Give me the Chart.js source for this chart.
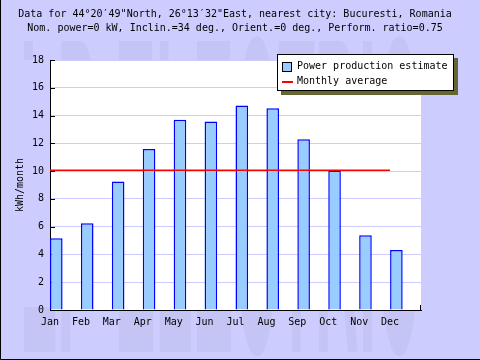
<!DOCTYPE html>
<html><head><meta charset="utf-8">
<script src="https://cdn.jsdelivr.net/npm/chart.js@4"></script>
<style>html,body{margin:0;padding:0;background:#ccccff}canvas{display:block}</style>
</head><body>
<div style="width:480px;height:360px"><canvas id="c" width="480" height="360"></canvas></div>
<script>
const months = ['Jan','Feb','Mar','Apr','May','Jun','Jul','Aug','Sep','Oct','Nov','Dec'];
const production = [5.16, 6.24, 9.26, 11.6, 13.7, 13.58, 14.73, 14.52, 12.29, 10.05, 5.38, 4.32];
const monthlyAverage = [10.06, 10.06, 10.06, 10.06, 10.06, 10.06, 10.06, 10.06, 10.06, 10.06, 10.06, 10.06];
const yTickValues = [0, 2, 4, 6, 8, 10, 12, 14, 16, 18];
const titleLines = [
  'Data for 44\u00b020\u203249"North, 26\u00b013\u203232"East, nearest city: Bucuresti, Romania',
  'Nom. power=0 kW, Inclin.=34 deg., Orient.=0 deg., Perform. ratio=0.75'
];
const seriesLabels = ['Power production estimate', 'Monthly average'];
const yAxisTitle = 'kWh/month';
const watermarkText = 'LP ELECTRIC';

const MONO = "'DejaVu Sans Mono', 'Liberation Mono', monospace";
Chart.defaults.font.family = MONO;
Chart.defaults.font.size = 10;
Chart.defaults.color = '#000';

const BG = '#ccccff';
const BAR_FILL = '#99ccff';
const BAR_EDGE = '#0000ff';
const AVG_COLOR = '#ff0000';

const xLabels = months.concat(['']);

const backgroundPlugin = {
  id: 'bgPlugin',
  beforeDraw(chart) {
    const ctx = chart.ctx;
    const a = chart.chartArea;
    ctx.save();
    ctx.fillStyle = BG;
    ctx.fillRect(0, 0, chart.width, chart.height);
    ctx.beginPath();
    ctx.rect(0, 0, chart.width, a.top);
    ctx.rect(0, a.bottom - 3, chart.width, chart.height - a.bottom + 3);
    ctx.clip();
    ctx.fillStyle = '#c5c5f5';
    ctx.font = "bold 60px 'Liberation Sans', Arial, sans-serif";
    ctx.textBaseline = 'alphabetic';
    const w = ctx.measureText(watermarkText).width;
    ctx.translate(20, 352);
    ctx.scale(400 / w, 324 / 43);
    ctx.fillText(watermarkText, 0, 0);
    ctx.restore();
    ctx.save();
    ctx.fillStyle = '#ffffff';
    ctx.fillRect(a.left, a.top, a.right - a.left, a.bottom - a.top);
    ctx.strokeStyle = '#000';
    ctx.lineWidth = 1;
    ctx.beginPath();
    ctx.moveTo(0.5, 0);
    ctx.lineTo(0.5, chart.height - 0.5);
    ctx.lineTo(chart.width, chart.height - 0.5);
    ctx.stroke();
    ctx.restore();
  },
  beforeDatasetsDraw(chart) {
    const ctx = chart.ctx;
    const ys = chart.scales.y;
    const xs = chart.scales.x;
    const a = chart.chartArea;
    ctx.save();
    ctx.strokeStyle = '#000';
    ctx.lineWidth = 1;
    ctx.beginPath();
    ys.ticks.forEach(t => {
      const py = Math.round(ys.getPixelForValue(t.value)) + 0.5;
      ctx.moveTo(a.left, py);
      ctx.lineTo(a.left + 5, py);
    });
    const px = Math.round(xs.getPixelForValue(xLabels.length - 1)) - 0.5;
    ctx.moveTo(px, a.bottom);
    ctx.lineTo(px, a.bottom - 5);
    ctx.stroke();
    ctx.restore();
  },
  afterDraw(chart) {
    const ctx = chart.ctx;
    ctx.save();
    ctx.fillStyle = '#666633';
    ctx.fillRect(281, 58, 177, 37);
    ctx.fillStyle = '#ffffff';
    ctx.fillRect(277, 54, 177, 37);
    ctx.strokeStyle = '#000';
    ctx.lineWidth = 1;
    ctx.strokeRect(277.5, 54.5, 176, 36);
    ctx.fillStyle = BAR_FILL;
    ctx.fillRect(282, 62, 10, 10);
    ctx.strokeStyle = '#000';
    ctx.strokeRect(282.5, 62.5, 9, 9);
    ctx.strokeStyle = AVG_COLOR;
    ctx.lineWidth = 2;
    ctx.beginPath();
    ctx.moveTo(282, 82);
    ctx.lineTo(293, 82);
    ctx.stroke();
    ctx.fillStyle = '#000';
    ctx.font = '10px ' + MONO;
    ctx.textBaseline = 'middle';
    ctx.textAlign = 'left';
    ctx.fillText(chart.data.datasets[1].label, 297, 66.5);
    ctx.fillText(chart.data.datasets[2].label, 297, 81.5);
    ctx.restore();
  }
};

new Chart(document.getElementById('c'), {
  data: {
    labels: xLabels,
    datasets: [
      { type: 'bar', label: '', data: xLabels.map(() => null), order: 2,
        categoryPercentage: 0.815, barPercentage: 1.0 },
      { type: 'bar', label: seriesLabels[0], data: production.concat([null]), order: 2,
        backgroundColor: BAR_FILL, borderColor: BAR_EDGE, borderWidth: 1.5,
        categoryPercentage: 0.815, barPercentage: 1.0 },
      { type: 'line', label: seriesLabels[1], data: monthlyAverage.concat([null]), order: 0,
        borderColor: AVG_COLOR, borderWidth: 1.5, pointRadius: 0, fill: false, tension: 0 }
    ]
  },
  options: {
    responsive: false,
    animation: false,
    devicePixelRatio: 1,
    layout: { padding: { left: 0, right: 10, top: 0, bottom: 0 } },
    plugins: {
      legend: { display: false },
      tooltip: { enabled: false },
      title: {
        display: true,
        text: titleLines,
        color: '#000',
        font: { family: MONO, size: 10, weight: 'normal', lineHeight: 1.4 },
        padding: { top: 7, bottom: 25 }
      }
    },
    scales: {
      x: {
        type: 'category',
        offset: false,
        grid: { display: false, drawTicks: false },
        border: { display: true, color: '#000', width: 1 },
        ticks: { color: '#000', padding: 6, maxRotation: 0, autoSkip: false, font: { family: MONO, size: 10 } },
        afterFit(s) { s.height = 50; }
      },
      y: {
        type: 'linear',
        min: 0, max: 18,
        afterBuildTicks(s) { s.ticks = yTickValues.map(v => ({ value: v })); },
        grid: { color: '#ccccff', lineWidth: 1, drawTicks: false },
        border: { display: true, color: '#000', width: 1 },
        ticks: { color: '#000', padding: 6, font: { family: MONO, size: 10 } },
        title: { display: true, text: yAxisTitle, color: '#000', font: { family: MONO, size: 10 }, padding: { top: 14, bottom: 0 } },
        afterFit(s) { s.width = 50; }
      },
      yR: {
        type: 'linear',
        position: 'right',
        display: true,
        grid: { display: false },
        border: { display: false },
        ticks: { display: false },
        afterFit(s) { s.width = 49; }
      }
    }
  },
  plugins: [backgroundPlugin]
});
</script>
</body></html>
